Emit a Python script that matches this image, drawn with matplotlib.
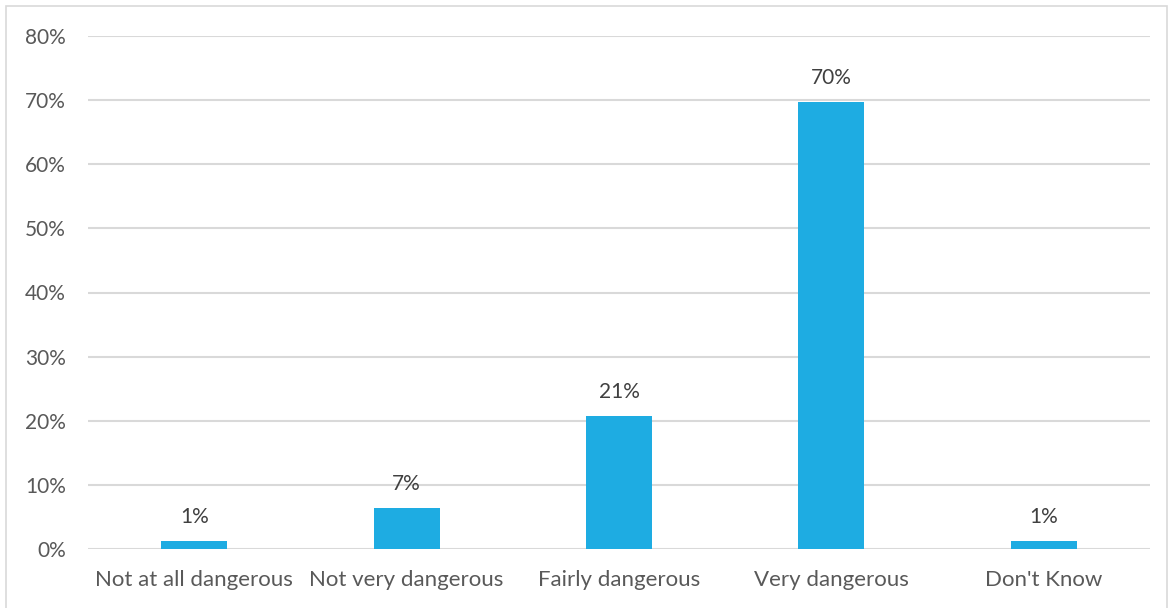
import matplotlib
matplotlib.use("Agg")
import matplotlib.pyplot as plt
from matplotlib.patches import Rectangle

categories = ["Not at all dangerous", "Not very dangerous", "Fairly dangerous", "Very dangerous", "Don't Know"]
values = [1.3, 6.4, 20.7, 69.7, 1.3]
labels = ["1%", "7%", "21%", "70%", "1%"]
yticks = [0, 10, 20, 30, 40, 50, 60, 70, 80]
ytick_labels = ["0%", "10%", "20%", "30%", "40%", "50%", "60%", "70%", "80%"]

plt.rcParams['font.family'] = ['Lato', 'DejaVu Sans']
txt = '#595959'
W, H = 1170, 608
fig = plt.figure(figsize=(W/100, H/100), dpi=100)
ax = fig.add_axes([88/W, 1-549/H, (1150-88)/W, (549-36)/H])

x = list(range(len(categories)))
ax.bar(x, values, width=0.31, color='#1EACE2', zorder=3)
for xi, v, l in zip(x, values, labels):
    ax.annotate(l, (xi, v), xytext=(0, 10), textcoords='offset points',
                ha='center', va='bottom', fontsize=15, color='#404040')

ax.set_xlim(-0.5, len(categories)-0.5)
ax.set_ylim(0, 80)
ax.set_yticks(yticks)
ax.set_yticklabels(ytick_labels)
ax.set_xticks(x)
ax.set_xticklabels(categories)
ax.grid(axis='y', color='#D9D9D9', linewidth=1.5, zorder=0)
ax.tick_params(axis='both', length=0, colors=txt)
ax.tick_params(axis='y', pad=16, labelsize=15)
ax.tick_params(axis='x', pad=15, labelsize=16)
for s in ax.spines.values():
    s.set_visible(False)

fig.patches.append(Rectangle((6/W, -0.01), (1167-6)/W, 1-6/H+0.01, transform=fig.transFigure,
                             fill=False, edgecolor='#D9D9D9', linewidth=1.2))
fig.savefig('out.png', dpi=100)
